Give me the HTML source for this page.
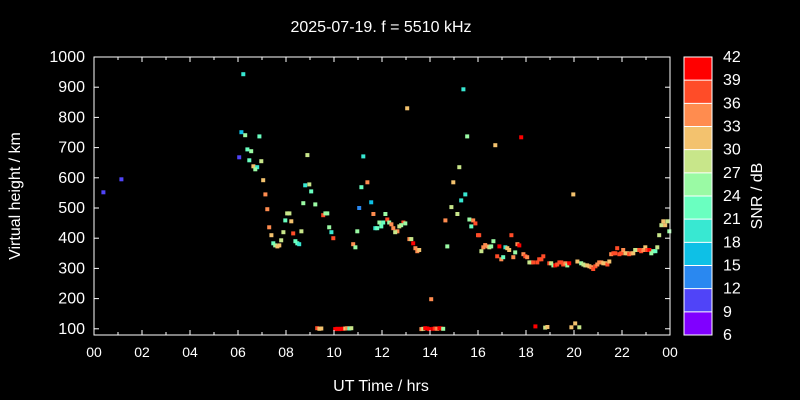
<!DOCTYPE html>
<html><head><meta charset="utf-8"><style>
body{margin:0;background:#000;}
svg{display:block;font-family:"Liberation Sans",sans-serif;}
</style></head><body>
<svg id="chart" width="800" height="400" xmlns="http://www.w3.org/2000/svg">
<rect width="800" height="400" fill="#000"/>
<text x="381" y="32" fill="#fff" font-size="16" text-anchor="middle">2025-07-19. f = 5510 kHz</text>
<text x="381" y="391" fill="#fff" font-size="16" text-anchor="middle">UT Time / hrs</text>
<text transform="translate(20,196) rotate(-90)" fill="#fff" font-size="16" text-anchor="middle">Virtual height / km</text>
<text transform="translate(762,196) rotate(-90)" fill="#fff" font-size="16" text-anchor="middle">SNR / dB</text>
<g id="marks"></g>
<g id="axes"></g>
<g id="cbar"></g>
</svg>
<script>
const xTickLabels=["00","02","04","06","08","10","12","14","16","18","20","22","00"];
const yTickLabels=[100,200,300,400,500,600,700,800,900,1000];
const cbarTicks=[6,9,12,15,18,21,24,27,30,33,36,39,42];
const bandColors=["#8000ff","#5044f8","#2a88f0","#0ec0e6","#38e8d2","#6affc0","#9afaa4","#c8e68a","#f3c26e","#ff8c4f","#ff4c28","#ff0000"];
const times=[0.39,1.14,6.22,6.14,6.3,6.89,6.39,6.55,6.05,6.47,6.97,6.64,6.8,6.72,7.05,7.14,7.22,8.05,8.14,7.97,7.3,7.39,7.89,7.8,7.47,7.55,7.64,7.72,
15.39,13.05,15.55,8.89,11.22,15.22,14.97,8.8,8.97,11.39,11.14,9.05,15.47,15.3,8.72,9.22,11.55,14.89,11.05,9.55,9.64,9.72,11.64,12.14,15.14,14.64,15.64,15.8,15.89,15.72,8.22,11.89,12.05,12.22,12.3,12.39,12.89,12.97,12.8,12.72,11.97,11.72,11.8,12.47,12.64,12.55,9.8,9.89,10.97,8.64,8.3,8.39,8.47,8.55,9.97,10.8,10.89,13.14,13.22,13.3,13.39,13.47,13.55,14.72,16.0,14.05,
9.3,9.39,9.47,10.05,10.14,10.22,10.3,10.39,10.47,10.55,10.64,10.72,13.64,13.72,13.8,13.89,13.97,14.14,14.22,14.3,14.39,14.47,14.55,
17.8,16.72,19.97,16.05,16.64,16.3,16.22,16.39,16.47,16.55,16.14,16.89,17.39,17.64,17.72,17.14,17.22,17.3,16.8,16.97,17.05,17.47,17.55,17.89,17.97,18.05,18.14,18.22,18.3,18.47,18.55,18.64,18.72,
18.97,19.05,19.14,19.22,19.3,19.39,19.47,19.55,19.64,19.72,19.8,20.14,20.3,20.39,20.47,20.55,20.64,20.72,20.8,20.89,20.97,21.05,21.14,21.22,21.3,21.39,21.47,
21.55,21.64,21.72,21.8,21.89,21.97,22.05,22.14,22.22,22.3,22.39,22.47,22.55,22.64,22.72,22.8,22.89,22.97,23.05,23.14,23.22,23.3,23.39,23.47,23.55,23.64,23.72,23.8,23.89,23.97,
18.39,18.8,18.89,19.89,20.05,20.22];
const heights=[552,595,943,751,741,737,694,688,668,658,655,638,635,628,592,545,496,482,482,459,436,410,420,393,383,376,373,376,
893,830,737,675,671,635,585,575,578,585,569,555,545,525,516,512,519,503,500,476,482,482,480,480,480,459,462,459,449,439,456,452,452,462,452,446,452,449,443,439,439,433,433,433,423,420,436,420,423,423,416,390,383,380,400,380,370,397,397,383,367,357,361,373,410,198,
102,100,101,99,100,99,100,100,101,102,101,102,99,100,102,101,99,100,101,100,102,101,100,
734,708,545,410,390,377,370,373,370,373,357,373,410,380,376,370,367,361,340,330,337,337,353,347,340,337,320,320,320,320,330,330,340,
317,317,310,310,313,320,320,313,317,310,317,323,317,313,310,310,307,304,298,307,313,320,320,317,317,313,323,
347,350,350,367,347,350,361,350,350,347,350,350,361,361,361,357,361,370,361,361,350,357,357,370,410,443,456,443,456,423,
108,104,106,105,118,105];
const snr=[10,10,20,16,25,22,22,25,10,22,28,31,19,25,31,35,35,28,28,22,35,31,28,28,22,25,31,31,
20,31,25,28,20,28,31,20,28,34,21,22,20,19,25,25,16,28,14,37,25,25,35,25,28,35,25,35,37,22,31,25,22,38,25,35,37,25,25,28,22,20,22,35,35,28,25,20,25,28,37,22,22,20,38,35,25,35,28,42,35,35,31,25,37,35,
37,31,31,42,40,42,40,42,31,35,22,28,35,28,40,40,42,40,37,35,40,42,25,
40,31,31,38,25,35,35,35,28,25,28,42,38,35,42,20,31,31,37,35,22,35,25,35,37,35,28,28,37,37,37,37,37,
37,28,25,42,37,37,38,37,35,25,42,31,25,28,28,31,31,35,37,38,35,35,35,31,31,37,31,
35,37,37,38,37,37,35,31,31,37,35,31,28,28,38,37,35,31,37,42,25,25,22,28,28,28,31,31,28,25,
42,28,31,31,31,28];

const NS="http://www.w3.org/2000/svg";
const L=94,R=670,T=57,B=335;
const xS=t=>L+t*(R-L)/24;
const yS=h=>T+(1000-h)*0.302;
function colorFor(v){let i=Math.floor((v-6)/3);if(i<0)i=0;if(i>11)i=11;return bandColors[i];}
function mk(tag,attrs,parent){const e=document.createElementNS(NS,tag);for(const k in attrs)e.setAttribute(k,attrs[k]);parent.appendChild(e);return e;}

const marks=document.getElementById('marks');
for(let i=0;i<times.length;i++){
  const r=mk('rect',{x:(xS(times[i])-2).toFixed(1),y:(yS(heights[i])-2).toFixed(1),width:4,height:4,fill:colorFor(snr[i])},marks);
  
  
}
const axes=document.getElementById('axes');
const frame=mk('rect',{x:L,y:T,width:R-L,height:B-T,fill:'none',stroke:'#fff','stroke-width':1},axes);


for(let h=0;h<=24;h++){
  const x=xS(h),len=h%2===0?5:3;
  mk('line',{x1:x,y1:B,x2:x,y2:B-len,stroke:'#fff'},axes);
  mk('line',{x1:x,y1:T,x2:x,y2:T+len,stroke:'#fff'},axes);
}
xTickLabels.forEach((lab,i)=>{
  const t=mk('text',{x:xS(i*2),y:B+22,fill:'#fff','font-size':14,'text-anchor':'middle'},axes);
  t.textContent=lab;
  
  
});
yTickLabels.forEach(v=>{
  const y=yS(v);
  mk('line',{x1:L,y1:y,x2:L+5,y2:y,stroke:'#fff'},axes);
  mk('line',{x1:R,y1:y,x2:R-5,y2:y,stroke:'#fff'},axes);
  const t=mk('text',{x:L-9,y:y+5,fill:'#fff','font-size':16,'text-anchor':'end'},axes);
  t.textContent=v;
  
  
});
const cb=document.getElementById('cbar');
const cx=684,cw=28,bh=(B-T)/12;
bandColors.forEach((c,i)=>{
  const r=mk('rect',{x:cx,y:B-(i+1)*bh,width:cw,height:bh,fill:c},cb);
  
  
  if(i>0)mk('line',{x1:cx,x2:cx+cw,y1:B-i*bh,y2:B-i*bh,stroke:'#fff'},cb);
});
mk('rect',{x:cx,y:T,width:cw,height:B-T,fill:'none',stroke:'#fff'},cb);
cbarTicks.forEach((v,i)=>{
  const y=B-i*bh;
  const t=mk('text',{x:723,y:y+5,fill:'#fff','font-size':16},cb);
  t.textContent=v;
  
  
});
</script>
</body></html>
